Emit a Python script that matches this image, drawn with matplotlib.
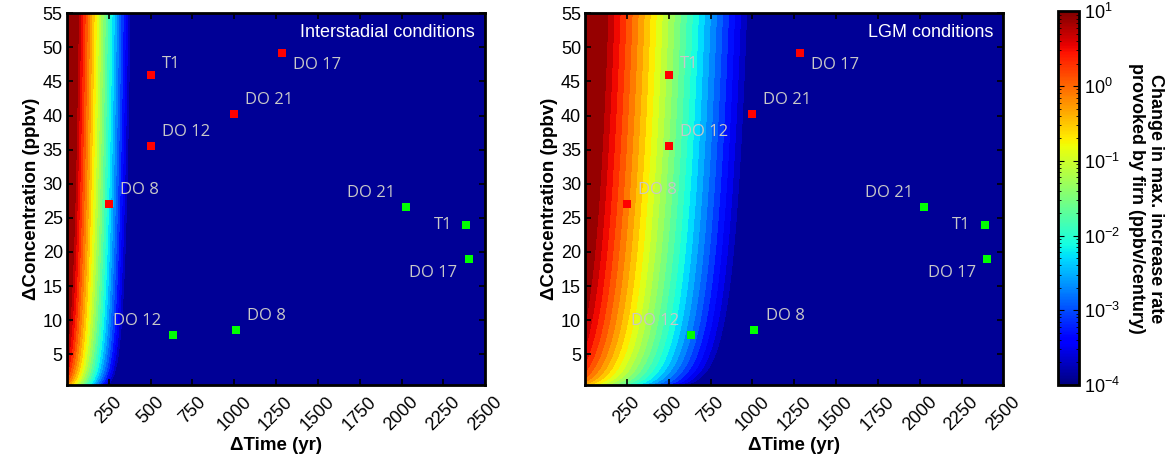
import matplotlib
matplotlib.use("Agg")
import matplotlib.pyplot as plt
import numpy as np
from matplotlib.colors import LogNorm
from matplotlib.cm import ScalarMappable

plt.rcParams['font.family'] = ['Liberation Sans', 'DejaVu Sans']

# event points (time, concentration) -- red and green groups
red_labels = ['T1', 'DO 12', 'DO 8', 'DO 21', 'DO 17']
red_time = [500, 502, 252, 998, 1286]
red_conc = [45.9, 35.6, 27.0, 40.2, 49.1]

green_labels = ['DO 21', 'T1', 'DO 17', 'DO 12', 'DO 8']
green_time = [2028, 2387, 2401, 631, 1012]
green_conc = [26.6, 24.0, 19.0, 7.8, 8.6]

# field model: log10(rate) = log10(dC) + offset - dT / decade_len
panels = ['Interstadial conditions', 'LGM conditions']
field_offset = [0.08, -0.18]
decade_len = [67.0, 180.0]

xticks = [250, 500, 750, 1000, 1250, 1500, 1750, 2000, 2250, 2500]
yticks = [5, 10, 15, 20, 25, 30, 35, 40, 45, 50, 55]

# label offsets in points (dx, dy, ha)
red_off = [(8, 8, 'left'), (8, 10, 'left'), (8, 10, 'left'), (8, 10, 'left'), (8, -8, 'left')]
green_off = [(-8, 10, 'right'), (-10, 0, 'right'), (-8, -10, 'right'), (-8, 10, 'right'), (8, 10, 'left')]

fig = plt.figure(figsize=(11.75, 4.63), dpi=100)
ax_pos = [[0.057, 0.1685, 0.356, 0.803], [0.498, 0.1685, 0.356, 0.803]]

t = np.linspace(1, 2500, 600)
c = np.linspace(0.3, 55, 400)
T, C = np.meshgrid(t, c)
norm = LogNorm(1e-4, 10)
levels = np.logspace(-4, 1, 26)

for k in range(2):
    ax = fig.add_axes(ax_pos[k])
    logv = np.log10(C) + field_offset[k] - T / decade_len[k]
    v = 10 ** np.clip(logv, -3.9999, 0.9999)
    ax.set_facecolor('#000080')
    ax.contourf(T, C, v, levels=levels, norm=norm, cmap='jet')

    ax.plot(red_time, red_conc, 's', color='#ff0000', markersize=5.5, markeredgewidth=0)
    ax.plot(green_time, green_conc, 's', color='#00ff00', markersize=5.5, markeredgewidth=0)
    for lab, x, y, (dx, dy, ha) in zip(red_labels, red_time, red_conc, red_off):
        ax.annotate(lab, (x, y), xytext=(dx, dy), textcoords='offset points', ha=ha, va='center',
                    color='#c8c8c8', fontsize=12, family=['Open Sans', 'DejaVu Sans'])
    for lab, x, y, (dx, dy, ha) in zip(green_labels, green_time, green_conc, green_off):
        ax.annotate(lab, (x, y), xytext=(dx, dy), textcoords='offset points', ha=ha, va='center',
                    color='#c8c8c8', fontsize=12, family=['Open Sans', 'DejaVu Sans'])

    ax.text(0.975, 0.97, panels[k], transform=ax.transAxes, ha='right', va='top',
            color='white', fontsize=13)

    ax.set_xlim(0, 2500)
    ax.set_ylim(0.5, 55)
    ax.set_xticks(xticks)
    ax.set_yticks(yticks)
    ax.set_xticklabels([str(x) for x in xticks], rotation=45, ha='center', va='top', fontsize=13)
    ax.tick_params(axis='y', labelsize=13, pad=3)
    ax.tick_params(axis='x', pad=6)
    ax.tick_params(direction='in', top=True, right=True, length=4, width=1.2, color='black')
    for s in ax.spines.values():
        s.set_linewidth(2)
    ax.set_xlabel('\u0394Time (yr)', fontsize=13.5, fontweight='bold', labelpad=2)
    ax.set_ylabel('\u0394Concentration (ppbv)', fontsize=13.5, fontweight='bold', labelpad=2)

cax = fig.add_axes([0.900, 0.1685, 0.018, 0.807])
sm = ScalarMappable(norm=norm, cmap='jet')
cb = fig.colorbar(sm, cax=cax)
cb.set_ticks([1e-4, 1e-3, 1e-2, 1e-1, 1e0, 1e1])
cb.ax.tick_params(which='both', direction='in', left=True, right=True, color='black', labelsize=13)
cb.ax.tick_params(which='major', length=4)
cb.ax.tick_params(which='minor', length=2)
cb.outline.set_linewidth(2)
cb.set_label('Change in max. increase rate\nprovoked by firn (ppbv/century)', rotation=270,
             fontsize=13, fontweight='bold', labelpad=32)

fig.savefig('out.png', dpi=100)
